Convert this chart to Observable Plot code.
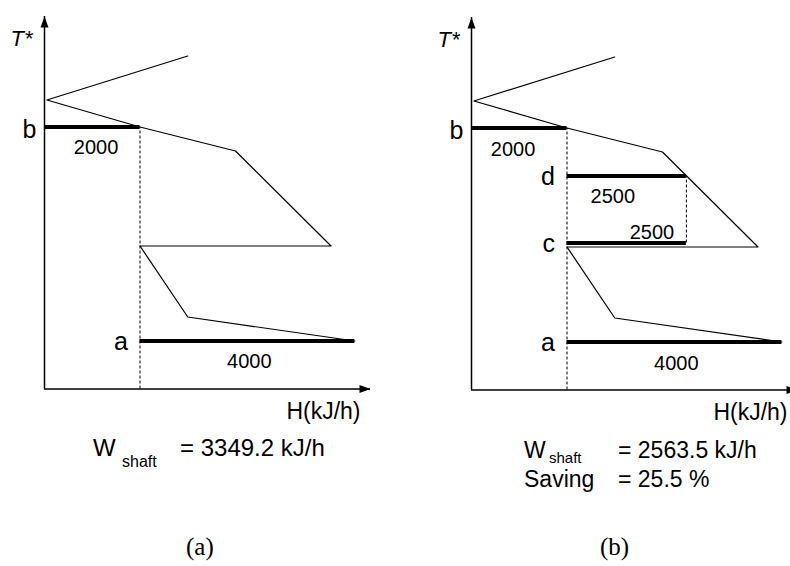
<!DOCTYPE html>
<html>
<head>
<meta charset="utf-8">
<script src="https://cdn.jsdelivr.net/npm/d3@7"></script>
<script src="https://cdn.jsdelivr.net/npm/@observablehq/plot@0.6"></script>
<style>
  html, body { margin: 0; padding: 0; background: #fff; }
  #root { position: relative; width: 790px; height: 566px; overflow: hidden; background: #fff;
          font-family: "Liberation Sans", Arial, sans-serif; color: #000; }
  .panel { position: absolute; top: 0; }
  .t { position: absolute; white-space: nowrap; line-height: 0.75; }
  .cap { font-family: "Liberation Serif", "Times New Roman", serif; }
</style>
</head>
<body>
<div id="root"></div>
<script>
// ---- data (schematic grand composite curve, H in kJ/h, T* in arbitrary shifted units) ----
const curveH = [3000, 50, 2000, 4000, 6000, 2000, 3000, 6500];
const curveT = [33.3, 28.9, 26.2, 23.8, 14.3, 14.3, 7.2, 4.8];

// panel (a) utility levels
const aNames  = ["b", "a"];
const aT      = [26.2, 4.8];
const aH1     = [0, 2000];
const aH2     = [2000, 6500];
const aValue  = ["2000", "4000"];
const aValH   = [1080, 4290];
const aValT   = [24.1, 2.75];

// panel (b) utility levels
const bNames  = ["b", "d", "c", "a"];
const bT      = [26.2, 21.4, 14.7, 4.8];
const bH1     = [0, 2000, 2000, 2000];
const bH2     = [2000, 4500, 4500, 6500];
const bValue  = ["2000", "2500", "2500", "4000"];
const bValH   = [870, 2960, 3780, 4290];
const bValT   = [24.0, 19.3, 15.7, 2.6];

// dashed guide lines
const aGuideH = [2000];        const aGuideT1 = [0];        const aGuideT2 = [26.2];
const bGuideH = [2000, 4500];  const bGuideT1 = [0, 14.7];  const bGuideT2 = [26.2, 21.4];

const HMAX = 6827, TMAX = 37.25;
const yLabel = "T*";
const xLabel = "H(kJ/h)";

const curve = curveH.map((h, i) => ({H: h, T: curveT[i]}));
const mkBars = (n, t, h1, h2, v, vh, vt) => n.map((name, i) => ({name, T: t[i], H1: h1[i], H2: h2[i], value: v[i], vH: vh[i], vT: vt[i]}));
const mkGuides = (h, t1, t2) => h.map((x, i) => ({H: x, T1: t1[i], T2: t2[i]}));

const triUp = { draw(ctx) { ctx.moveTo(0, 0); ctx.lineTo(4, 11); ctx.lineTo(-4, 11); ctx.closePath(); } };
const triRight = { draw(ctx) { ctx.moveTo(0, 0); ctx.lineTo(-11, -4); ctx.lineTo(-11, 4); ctx.closePath(); } };

function panel(bars, guides) {
  const ff = "Liberation Sans, Arial, sans-serif";
  return Plot.plot({
    width: 427, height: 430,
    marginLeft: 44, marginRight: 57, marginTop: 16, marginBottom: 41.5,
    x: {domain: [0, HMAX], axis: null},
    y: {domain: [0, TMAX], axis: null},
    style: {fontFamily: ff, background: "transparent", overflow: "visible"},
    marks: [
      Plot.ruleY([0], {x1: 0, x2: HMAX, stroke: "black", strokeWidth: 1.5}),
      Plot.ruleX([0], {y1: 0, y2: TMAX, stroke: "black", strokeWidth: 1.5}),
      Plot.dot([{H: 0, T: TMAX}], {x: "H", y: "T", symbol: triUp, r: 5, fill: "black", stroke: "none"}),
      Plot.dot([{H: HMAX, T: 0}], {x: "H", y: "T", symbol: triRight, r: 5, fill: "black", stroke: "none"}),
      Plot.ruleX(guides, {x: "H", y1: "T1", y2: "T2", stroke: "black", strokeWidth: 1, strokeDasharray: "3,2"}),
      Plot.line(curve, {x: "H", y: "T", stroke: "black", strokeWidth: 1.2, curve: "linear"}),
      Plot.ruleY(bars, {y: "T", x1: "H1", x2: "H2", stroke: "black", strokeWidth: 4}),
      Plot.text(bars.filter(d => d.H1 === 0), {x: "H1", y: "T", text: "name", textAnchor: "end", dx: -8, dy: 3, fontSize: 25}),
      Plot.text(bars.filter(d => d.H1 !== 0), {x: "H1", y: "T", text: "name", textAnchor: "end", dx: -12, dy: 1, fontSize: 25}),
      Plot.text(bars, {x: "vH", y: "vT", text: "value", fontSize: 20}),
      Plot.text([yLabel], {x: 0, y: TMAX, text: d => d, textAnchor: "end", dx: -12, dy: 22, fontSize: 22, fontStyle: "italic"}),
      Plot.text([xLabel], {x: HMAX, y: 0, text: d => d, textAnchor: "end", dx: -10, dy: 23, fontSize: 23})
    ]
  });
}

const root = document.getElementById("root");
const pa = panel(mkBars(aNames, aT, aH1, aH2, aValue, aValH, aValT), mkGuides(aGuideH, aGuideT1, aGuideT2));
pa.classList.add("panel"); pa.style.left = "0px";
root.appendChild(pa);
const pb = panel(mkBars(bNames, bT, bH1, bH2, bValue, bValH, bValT), mkGuides(bGuideH, bGuideT1, bGuideT2));
pb.classList.add("panel"); pb.style.left = "427px"; pb.style.top = "1px";
root.appendChild(pb);

// baseline-positioned HTML text (line-height 0.75 -> baseline at 0.7215em below top)
function txt(s, left, baseline, size, cls) {
  const d = document.createElement("div");
  d.className = "t" + (cls ? " " + cls : "");
  d.textContent = s;
  d.style.fontSize = size + "px";
  d.style.left = left + "px";
  d.style.top = (baseline - 0.7215 * size) + "px";
  root.appendChild(d);
}
const wA = "3349.2", wB = "2563.5", saving = "25.5";
txt("W", 93, 456, 24);
txt("shaft", 122, 468, 16);
txt("= " + wA + " kJ/h", 180, 456, 24);
txt("W", 524, 459, 23);
txt("shaft", 549, 463, 15);
txt("= " + wB + " kJ/h", 618, 459, 23);
txt("Saving", 524, 488, 23);
txt("= " + saving + " %", 618, 488, 23);

txt("(a)", 186, 556, 25, "cap");
txt("(b)", 600, 556, 25, "cap");
</script>
</body>
</html>
